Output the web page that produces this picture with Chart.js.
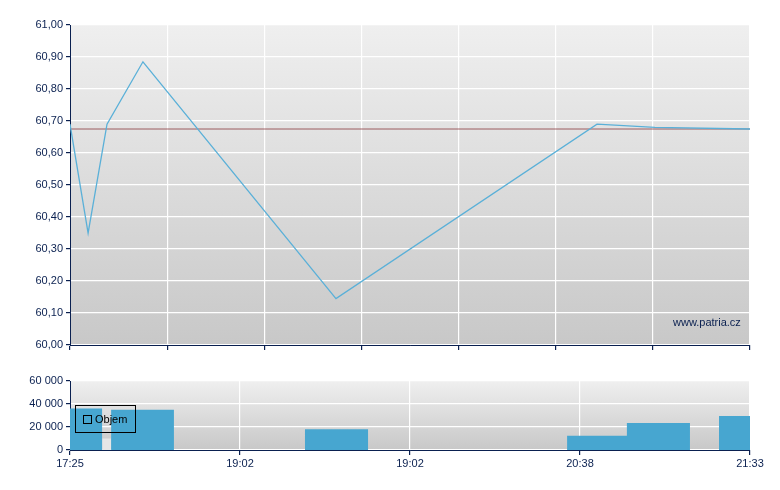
<!DOCTYPE html>
<html><head><meta charset="utf-8">
<script src="https://cdn.jsdelivr.net/npm/chart.js@4"></script>
<style>
body{margin:0;background:#fff;width:780px;height:490px;position:relative;font-family:"Liberation Sans",Arial,sans-serif}
#wm{position:absolute;left:673px;top:316px;font-size:11px;color:#0a2050}
#lg{position:absolute;left:75px;top:405px;width:61px;height:28px;border:1px solid #000;font-size:11px;color:#000;box-sizing:border-box}
#lg span.b{position:absolute;left:7px;top:9px;width:7px;height:7px;border:1px solid #000}
#lg span.t{position:absolute;left:19px;top:7px}
</style></head><body>
<div style="position:absolute;left:0;top:0;width:780px;height:360px"><canvas id="c1"></canvas></div>
<div style="position:absolute;left:0;top:370px;width:780px;height:120px"><canvas id="c2"></canvas></div>
<div id="wm">www.patria.cz</div>
<div id="lg"><span class="b"></span><span class="t">Objem</span></div>
<script>
const priceMin=[0,6.6,13.5,26.6,97,192.2,213.3,248];
const priceVal=[60.69,60.35,60.69,60.885,60.145,60.69,60.68,60.675];
const refPrice=60.675;
const volMin=[0,11.7,15,37.9,85.7,108.7,181.3,203.1,226.1,236.7,248];
const volVal=[36000,0,35000,0,18000,0,12500,23500,0,29500,29500];
const volLightMin=[11.7,15];
const volLightVal=[10000,0];
const bottomTicks=['17:25','19:02','19:02','20:38','21:33'];
const navy='#0a2050';
const grad={id:'grad',beforeDraw(c){const a=c.chartArea,x=c.ctx;const g=x.createLinearGradient(0,a.top,0,a.bottom);g.addColorStop(0,'#efefef');g.addColorStop(1,'#c8c8c8');x.save();x.fillStyle=g;x.fillRect(a.left,a.top,a.right-a.left,a.bottom-a.top);x.restore();}};
const font={family:'"Liberation Sans",Arial,sans-serif',size:11};
Chart.defaults.animation=false;
new Chart(document.getElementById('c1'),{type:'line',plugins:[grad],
data:{datasets:[
{data:priceMin.map((m,i)=>({x:m,y:priceVal[i]})),borderColor:'#5ab0d8',borderWidth:1.3,pointRadius:0,tension:0},
{data:[{x:0,y:refPrice},{x:248,y:refPrice}],borderColor:'#8a3a40',borderWidth:0.8,pointRadius:0}
]},
options:{responsive:true,maintainAspectRatio:false,layout:{padding:{top:25,right:30,left:0,bottom:0}},
plugins:{legend:{display:false},tooltip:{enabled:false}},
scales:{
x:{type:'linear',min:0,max:248,afterBuildTicks:s=>{s.ticks=[0,1,2,3,4,5,6,7].map(i=>({value:i*248/7}));},
ticks:{display:false},grid:{color:'#fff',lineWidth:1.2,tickColor:navy,tickLength:5,drawTicks:true},border:{color:navy},afterFit:s=>{s.height=15;}},
y:{min:60,max:61,afterBuildTicks:s=>{s.ticks=[0,1,2,3,4,5,6,7,8,9,10].map(i=>({value:60+i/10}));},
ticks:{color:navy,font,padding:3,callback:v=>v.toFixed(2).replace('.',',')},grid:{color:'#fff',lineWidth:1.2,tickColor:navy,tickLength:4},border:{color:navy},afterFit:s=>{s.width=70;}}
}}});
new Chart(document.getElementById('c2'),{type:'line',plugins:[grad],
data:{datasets:[
{data:volMin.map((m,i)=>({x:m,y:volVal[i]})),stepped:true,borderWidth:0,borderColor:'rgba(0,0,0,0)',backgroundColor:'#47a6d0',fill:'origin',pointRadius:0},
{data:volLightMin.map((m,i)=>({x:m,y:volLightVal[i]})),stepped:true,borderWidth:0,borderColor:'rgba(0,0,0,0)',backgroundColor:'#e6e6e6',fill:'origin',pointRadius:0}
]},
options:{responsive:true,maintainAspectRatio:false,layout:{padding:{top:11,right:30,left:0,bottom:0}},
plugins:{legend:{display:false},tooltip:{enabled:false}},
scales:{
x:{type:'linear',min:0,max:248,afterBuildTicks:s=>{s.ticks=[0,1,2,3,4].map(i=>({value:i*62}));},
ticks:{color:navy,font,maxRotation:0,autoSkip:false,padding:2,callback:(v,i)=>bottomTicks[i]},grid:{color:'#fff',lineWidth:1.2,tickColor:navy,tickLength:5},border:{color:navy},afterFit:s=>{s.height=40;}},
y:{min:0,max:60000,afterBuildTicks:s=>{s.ticks=[0,1,2,3].map(i=>({value:i*20000}));},
ticks:{color:navy,font,padding:3,callback:v=>v===0?'0':(v/1000)+' 000'},grid:{color:'#fff',lineWidth:1.2,tickColor:navy,tickLength:4},border:{color:navy},afterFit:s=>{s.width=70;}}
}}});
</script></body></html>
